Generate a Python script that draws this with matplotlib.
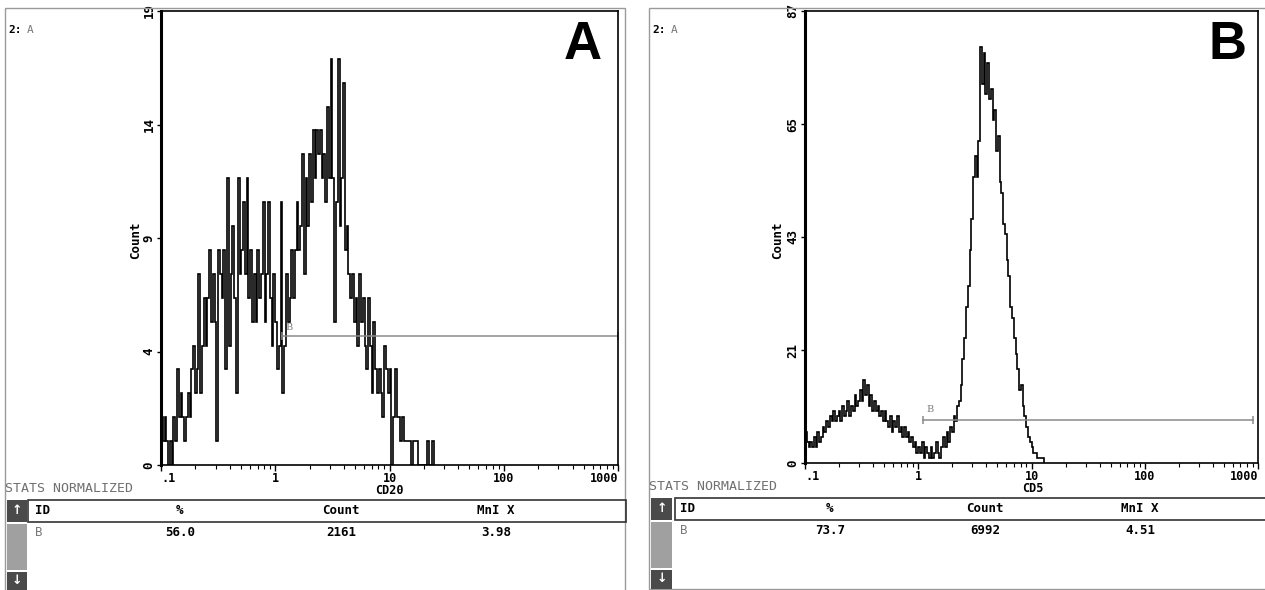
import matplotlib
matplotlib.use("Agg")
import matplotlib.pyplot as plt
import numpy as np
from matplotlib.patches import Rectangle
from matplotlib.ticker import NullFormatter, FixedLocator

W, H = 1265, 590
MONO = "DejaVu Sans Mono"

# ---- data (counts per channel, 256 log channels from 0.1 to 1000) ----
N_CHANNELS = 256
X_RANGE = (0.1, 1000)
X_TICKS = [0.1, 1, 10, 100, 1000]
X_TICK_LABELS = [".1", "1", "10", "100", "1000"]

CD20_COUNTS = [
    2, 1, 2, 1, 0, 1, 0, 2, 1, 4,
    2, 3, 2, 1, 2, 3, 2, 4, 5, 3,
    4, 8, 3, 5, 7, 5, 7, 9, 6, 8,
    6, 1, 9, 8, 7, 9, 4, 12, 5, 8,
    10, 7, 3, 12, 8, 9, 11, 8, 12, 7,
    9, 6, 8, 6, 9, 7, 8, 11, 6, 8,
    11, 7, 5, 8, 6, 4, 5, 11, 3, 5,
    8, 6, 7, 9, 7, 9, 11, 9, 10, 13,
    8, 12, 10, 13, 11, 14, 12, 14, 13, 14,
    12, 13, 11, 15, 12, 17, 12, 6, 11, 17,
    10, 12, 16, 9, 10, 8, 7, 8, 6, 7,
    5, 8, 6, 7, 5, 4, 7, 5, 3, 6,
    4, 3, 4, 3, 2, 5, 4, 3, 4, 0,
    2, 4, 2, 2, 1, 2, 1, 1, 1, 1,
    0, 1, 1, 1, 0, 0, 0, 0, 0, 1,
    0, 0, 1,
]
CD5_COUNTS = [
    6, 4, 3, 4, 3, 5, 3, 6, 4, 5,
    7, 6, 8, 7, 9, 8, 10, 8, 9, 10,
    8, 11, 9, 10, 12, 9, 11, 10, 13, 11,
    12, 14, 12, 16, 13, 15, 11, 13, 10, 12,
    10, 11, 9, 10, 8, 10, 8, 7, 9, 6,
    8, 7, 9, 6, 7, 5, 7, 5, 6, 4,
    5, 3, 4, 2, 3, 2, 4, 1, 3, 2,
    1, 3, 1, 2, 4, 2, 1, 3, 5, 3,
    6, 4, 7, 6, 9, 8, 11, 12, 15, 20,
    24, 30, 34, 41, 47, 55, 59, 55, 62, 80,
    73, 79, 71, 77, 70, 72, 66, 68, 60, 63,
    54, 52, 46, 44, 39, 36, 30, 28, 24, 21,
    18, 14, 15, 11, 9, 7, 5, 4, 3, 2,
    2, 1, 1, 1, 1,
]

A_YMAX = 19
A_YTICK_LABELS = ["0", "4", "9", "14", "19"]
B_YMAX = 87
B_YTICK_LABELS = ["0", "21", "43", "65", "87"]

GATE_A = (1.15, 1000, 5.4)
GATE_B = (1.10, 900, 8.3)

STATS_HEADER = ["ID", "%", "Count", "MnI X"]
STATS_A = ["B", "56.0", "2161", "3.98"]
STATS_B = ["B", "73.7", "6992", "4.51"]

# ---- layout (pixel positions, origin top-left) ----
PANELS = [
    dict(letter="A", counts=CD20_COUNTS, ymax=A_YMAX, ylabels=A_YTICK_LABELS,
         gate=GATE_A, xlabel="CD20", stats=STATS_A,
         frame=(5, 8, 625, 592), axes=(161, 11, 618, 465),
         letter_xy=(583, 45), gate_lbl=(289, 327), xlabel_xy=(389, 491),
         ylabel_xy=(136, 240), stats_y=489, table=(28, 500, 626, 522),
         col=(7, 27), cols_x=(35, 180, 341, 496)),
    dict(letter="B", counts=CD5_COUNTS, ymax=B_YMAX, ylabels=B_YTICK_LABELS,
         gate=GATE_B, xlabel="CD5", stats=STATS_B,
         frame=(649, 8, 1266, 589), axes=(805, 11, 1258, 463),
         letter_xy=(1228, 45), gate_lbl=(930, 410), xlabel_xy=(1033, 489),
         ylabel_xy=(778, 240), stats_y=487, table=(675, 498, 1266, 520),
         col=(651, 672), cols_x=(680, 830, 985, 1140)),
]

fig = plt.figure(figsize=(W / 100, H / 100), dpi=100)
fig.patch.set_facecolor("white")

# overlay axes in pixel coordinates, drawn above the plots
ov = fig.add_axes([0, 0, 1, 1])
ov.set_xlim(0, W)
ov.set_ylim(H, 0)
ov.axis("off")
ov.set_zorder(10)

edges = np.geomspace(X_RANGE[0], X_RANGE[1], N_CHANNELS + 1)

for p in PANELS:
    fl, ft, fr, fb = p["frame"]
    ov.add_patch(Rectangle((fl, ft), fr - fl, fb - ft, fill=False,
                           ec="#9a9a9a", lw=1.0))

    l, t, r, b = p["axes"]
    ax = fig.add_axes([l / W, 1 - b / H, (r - l) / W, (b - t) / H])
    ax.set_facecolor("white")
    counts = np.array(p["counts"])
    ax.stairs(counts, edges[:len(counts) + 1], baseline=0, color="black",
              lw=1.2)
    ax.set_xscale("log")
    ax.set_xlim(*X_RANGE)
    ax.set_ylim(0, p["ymax"])

    ax.set_yticks(np.linspace(0, p["ymax"], 5))
    ax.set_yticklabels(p["ylabels"], rotation=90, va="center",
                       family=MONO, fontweight="bold", fontsize=9)
    ax.xaxis.set_major_locator(FixedLocator(X_TICKS))
    ax.set_xticklabels(X_TICK_LABELS, family=MONO, fontweight="bold",
                       fontsize=8.5)
    xl = ax.get_xticklabels()
    xl[0].set_ha("left")
    xl[-1].set_ha("right")
    ax.xaxis.set_minor_formatter(NullFormatter())
    ax.tick_params(axis="y", direction="out", length=3, width=1, pad=1)
    ax.tick_params(axis="x", which="major", direction="out", length=4,
                   width=1, pad=1)
    ax.tick_params(axis="x", which="minor", direction="out", length=3,
                   width=0.8)
    for side in ("top", "right", "bottom"):
        ax.spines[side].set_linewidth(1.2)
    ax.spines["left"].set_linewidth(2.2)

    g0, g1, gy = p["gate"]
    ax.plot([g0, g1], [gy, gy], color="#8a8a8a", lw=1.1, clip_on=False)
    ax.plot([g0, g1], [gy, gy], ls="none", marker="|", ms=6, mew=1.1,
            color="#8a8a8a", clip_on=False)

    # texts around panel
    ov.text(fl + 3, 30, "2:", family=MONO, fontweight="bold", fontsize=8,
            va="center", ha="left")
    ov.text(fl + 22, 30, "A", family=MONO, fontsize=8, color="#777777",
            va="center", ha="left")
    ov.text(*p["letter_xy"], p["letter"], family="Liberation Sans",
            fontweight="bold", fontsize=38, ha="center", va="center")
    ov.text(*p["gate_lbl"], "B", family="DejaVu Serif", fontsize=7,
            color="#7a7a7a", ha="center", va="center")
    ov.text(*p["xlabel_xy"], p["xlabel"], family=MONO, fontweight="bold",
            fontsize=8.5, ha="center", va="center")
    ov.text(*p["ylabel_xy"], "Count", family=MONO, fontweight="bold",
            fontsize=9, rotation=90, ha="center", va="center")
    ov.text(fl, p["stats_y"], "STATS NORMALIZED", family=MONO, fontsize=9.5,
            color="#707070", ha="left", va="center")

    # stats table
    tl, tt, tr, tb = p["table"]
    ov.add_patch(Rectangle((tl, tt), tr - tl, tb - tt, fill=False,
                           ec="#333333", lw=1.2))
    c0, c1 = p["col"]
    ov.add_patch(Rectangle((c0, tt), c1 - c0, 22, fc="#4a4a4a", ec="none"))
    ov.add_patch(Rectangle((c0, tt + 24), c1 - c0, 46, fc="#a0a0a0",
                           ec="none"))
    ov.add_patch(Rectangle((c0, tt + 72), c1 - c0, fb - tt - 72,
                           fc="#4a4a4a", ec="none"))
    ov.text((c0 + c1) / 2, tt + 11, "\u2191", color="white", fontsize=9,
            ha="center", va="center", fontweight="bold")
    ov.text((c0 + c1) / 2, tt + 81, "\u2193", color="white", fontsize=9,
            ha="center", va="center", fontweight="bold")
    hy = (tt + tb) / 2
    ry = tb + 11
    for i, (hdr, val, cx) in enumerate(zip(STATS_HEADER, p["stats"],
                                           p["cols_x"])):
        ha = "left" if i == 0 else "center"
        ov.text(cx, hy, hdr, family=MONO, fontweight="bold", fontsize=9,
                ha=ha, va="center")
        ov.text(cx, ry, val, family=MONO, fontsize=9,
                fontweight="normal" if i == 0 else "bold",
                color="#777777" if i == 0 else "black", ha=ha, va="center")

fig.savefig("out.png", dpi=100)
